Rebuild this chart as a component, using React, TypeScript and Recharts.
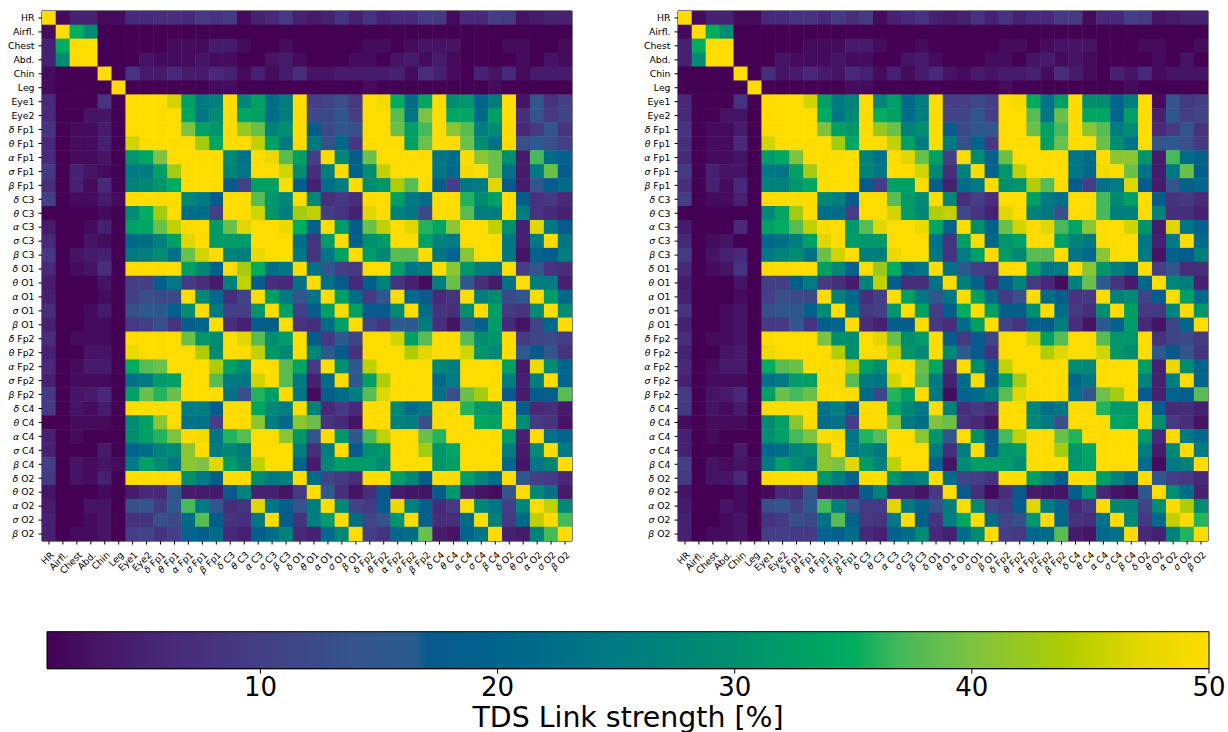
import React from 'react';
import { ScatterChart, Scatter, XAxis, YAxis, ReferenceLine, ReferenceArea } from 'recharts';

const labels = ['HR','Airfl.','Chest','Abd.','Chin','Leg','Eye1','Eye2','δ Fp1','θ Fp1','α Fp1','σ Fp1','β Fp1','δ C3','θ C3','α C3','σ C3','β C3','δ O1','θ O1','α O1','σ O1','β O1','δ Fp2','θ Fp2','α Fp2','σ Fp2','β Fp2','δ C4','θ C4','α C4','σ C4','β C4','δ O2','θ O2','α O2','σ O2','β O2'];
const tickPositions = labels.map((_, i) => i);
const colorbarTicks = [10, 20, 30, 40, 50];

// value -> colour stops
const colorStops: [number, number, number, number][] = [
  [1, 68, 1, 84], [3, 70, 20, 100], [6, 72, 40, 120], [10, 67, 62, 133], [14, 52, 84, 140], [16.5, 42, 92, 142],
  [17, 8, 90, 140], [20, 0, 100, 140], [25, 0, 122, 130], [30, 0, 143, 110], [35, 0, 172, 95], [37, 70, 185, 90],
  [40, 125, 195, 65], [44, 175, 205, 0], [47, 225, 215, 0], [50, 255, 220, 0],
];

const leftRows = [
  [50,2,5,5,2,2,6,6,7,7,6,9,8,9,2,5,6,9,5,4,5,8,5,8,5,6,6,9,9,2,6,6,10,9,3,4,5,5],
  [2,50,35,29,1,1,1,1,1,1,1,1,1,1,1,1,1,1,1,1,1,1,1,1,1,1,1,1,1,1,1,1,1,1,1,1,1,1],
  [5,35,50,50,1,1,1,1,1,2,2,2,4,4,2,1,1,2,1,1,1,1,1,2,2,1,2,3,3,3,1,1,1,2,2,1,1,2],
  [5,29,50,50,1,1,1,3,2,2,2,3,2,2,1,1,3,4,2,1,1,1,2,2,1,3,4,2,4,2,1,1,1,1,2,1,3,2],
  [2,1,1,1,50,1,8,4,4,6,4,4,6,5,2,5,2,4,7,3,3,4,4,4,4,5,2,7,5,2,1,5,3,6,2,4,4,4],
  [2,1,1,1,1,50,1,1,1,1,1,1,2,2,1,1,1,1,1,1,1,1,1,2,1,1,1,1,1,1,1,1,2,1,1,1,1,1],
  [6,1,1,1,8,1,50,50,50,46,33,25,27,50,28,33,22,26,50,10,11,13,9,50,49,35,22,34,50,30,31,20,26,50,3,14,8,10],
  [6,1,1,3,3,1,50,50,50,50,34,24,29,50,34,33,22,26,50,12,12,15,10,50,50,38,24,40,50,34,34,21,33,50,7,14,9,11],
  [8,1,2,2,4,1,50,50,50,50,40,33,31,50,42,39,27,30,50,18,12,15,13,50,50,39,33,37,50,41,38,26,29,50,6,9,14,8],
  [6,1,2,2,5,1,46,50,50,50,50,43,34,50,50,45,33,25,50,25,13,21,9,50,50,50,33,39,50,50,39,29,23,50,13,16,13,10],
  [6,1,2,2,3,1,31,34,40,50,50,50,50,28,23,50,48,38,33,10,50,28,18,39,50,50,50,50,24,22,50,41,39,30,4,37,22,19],
  [9,1,5,3,2,1,25,25,33,43,50,50,50,27,24,50,50,46,29,7,26,50,19,30,45,50,50,50,24,21,49,50,39,23,4,25,39,18],
  [7,1,5,2,6,1,27,28,31,35,50,50,50,17,11,33,33,50,18,5,22,26,50,29,31,44,38,50,18,10,24,25,47,17,4,14,18,22],
  [10,1,2,2,4,2,50,50,50,50,28,25,17,50,50,38,31,28,50,28,7,9,7,50,50,33,25,22,50,50,36,29,33,50,18,8,9,6],
  [1,1,1,1,2,1,29,35,43,50,22,22,10,50,50,46,31,26,43,45,10,8,5,47,50,27,24,12,50,50,38,26,26,50,26,8,6,5],
  [4,1,1,2,5,1,33,34,39,45,50,50,32,39,47,50,50,48,35,19,50,32,18,39,45,50,47,36,34,41,50,50,45,30,5,47,25,17],
  [6,1,1,3,2,1,21,22,27,33,47,50,32,32,32,50,50,50,22,8,32,50,19,30,32,50,50,33,27,25,50,50,50,24,5,25,50,24],
  [9,1,3,4,5,1,25,26,29,23,39,46,50,27,26,48,50,50,24,8,24,33,50,32,28,38,38,50,24,20,41,50,50,24,3,19,18,26],
  [6,1,2,3,7,1,50,50,50,50,33,28,19,50,43,35,22,24,50,23,15,10,9,50,50,33,24,25,50,41,31,26,24,50,10,14,8,7],
  [4,1,1,1,3,1,10,10,18,25,9,7,4,27,45,18,7,6,23,50,23,17,6,18,27,8,5,2,26,39,15,7,4,23,50,26,25,5],
  [5,1,1,1,2,1,10,13,12,12,50,28,21,7,11,50,33,25,14,24,50,33,22,9,15,50,21,18,6,8,50,26,29,12,15,50,32,21],
  [7,1,1,2,4,1,13,16,16,19,29,50,25,10,10,31,50,33,10,18,33,50,33,17,17,29,50,22,8,7,30,50,33,9,8,29,50,29],
  [5,1,1,2,2,1,9,10,13,8,18,20,50,7,5,18,18,50,8,7,22,33,50,11,8,16,16,26,7,3,15,19,32,6,3,11,21,50],
  [7,1,2,2,2,1,50,50,50,50,39,31,29,50,47,38,30,32,50,18,9,16,11,50,50,46,33,38,50,50,38,30,31,50,9,11,12,10],
  [5,1,1,3,3,1,48,50,50,50,50,44,29,50,50,45,31,28,50,28,16,17,8,50,50,50,44,47,50,50,46,31,28,50,16,17,14,8],
  [6,1,2,4,4,1,35,38,39,50,50,50,44,33,28,50,50,38,34,9,50,30,16,45,50,50,50,50,28,26,50,50,50,33,4,48,29,20],
  [5,1,2,2,2,1,23,25,32,33,50,50,38,25,24,46,50,38,25,5,22,50,16,33,44,50,50,50,21,25,50,50,50,26,5,26,50,20],
  [9,1,3,4,6,1,33,39,36,39,50,50,50,23,13,36,33,50,24,2,18,22,26,38,47,50,50,50,23,13,39,43,50,17,4,18,18,38],
  [9,1,3,2,4,1,50,50,50,50,25,26,18,50,50,34,28,26,50,27,6,9,6,50,50,28,22,24,50,50,36,32,31,50,17,6,7,4],
  [1,1,2,2,2,1,29,33,41,50,23,23,10,50,50,41,26,21,41,39,8,6,3,50,50,27,26,13,50,50,50,34,33,50,29,9,8,3],
  [5,1,2,1,1,1,30,33,36,40,50,49,24,36,38,50,50,41,31,14,50,31,16,37,45,50,50,39,36,50,50,50,50,32,5,50,23,20],
  [5,1,1,1,4,1,20,22,27,29,41,50,26,28,25,50,50,50,26,7,26,50,17,30,31,50,50,43,31,34,50,50,50,26,4,29,50,25],
  [10,1,3,2,3,2,25,33,29,24,41,40,47,32,27,45,50,50,20,4,28,33,32,32,29,50,50,50,31,33,50,50,50,21,3,24,27,50],
  [9,1,3,2,5,1,50,50,50,50,30,25,18,50,50,30,25,26,50,22,11,9,7,50,50,33,28,18,50,50,33,27,22,50,15,10,9,6],
  [3,1,1,1,2,1,4,6,6,15,4,4,4,17,27,5,5,3,9,50,16,7,3,7,17,4,3,3,18,31,5,3,2,14,50,28,23,4],
  [4,1,1,3,3,1,13,14,9,16,37,25,15,7,8,47,24,19,14,26,50,28,11,9,17,48,27,19,6,9,50,28,24,10,28,50,45,28],
  [5,1,1,2,3,1,8,8,13,12,22,38,18,8,7,24,50,18,8,26,32,50,22,11,14,31,50,19,7,7,22,50,27,9,21,45,50,37],
  [5,1,2,2,3,1,10,11,8,10,19,18,22,6,5,18,22,27,6,5,21,28,50,10,8,21,22,39,4,3,20,24,50,5,4,27,37,50],
];

const rightRows = [
  [50,2,5,5,2,2,6,6,8,8,6,9,7,9,2,5,6,8,5,4,5,8,5,8,5,6,6,9,9,2,6,6,10,9,3,4,5,5],
  [2,50,35,29,1,1,1,1,1,1,1,1,1,1,1,1,1,1,1,1,1,1,1,1,1,1,1,1,1,1,1,1,1,1,1,1,1,1],
  [5,35,50,50,1,1,1,1,1,2,2,2,4,4,2,1,1,2,1,1,1,1,1,2,2,1,2,3,3,3,1,1,1,2,2,1,1,2],
  [5,29,50,50,1,1,1,3,2,2,2,3,2,2,1,1,3,4,2,1,1,1,2,2,1,3,4,2,3,2,1,1,1,1,2,1,3,1],
  [1,1,1,1,50,1,7,3,4,6,4,3,6,5,2,5,2,4,6,3,2,4,3,4,4,5,2,7,4,2,1,5,3,6,2,3,3,3],
  [1,1,1,1,1,50,1,1,1,1,1,1,2,2,1,1,1,1,1,1,1,1,1,2,1,1,1,1,1,1,1,1,2,1,1,1,1,1],
  [6,1,1,1,8,1,50,50,50,46,33,25,27,50,28,33,21,26,50,10,10,12,10,50,49,35,23,33,50,30,30,20,26,50,2,14,9,10],
  [6,1,1,3,3,1,50,50,50,50,35,24,28,50,35,33,22,26,50,11,11,15,10,50,50,38,24,39,50,34,34,20,33,50,5,15,10,11],
  [8,1,2,2,4,1,50,50,50,50,40,33,31,50,42,39,27,30,50,17,12,15,14,50,50,39,33,37,50,41,38,26,29,50,6,9,14,8],
  [7,1,2,2,6,1,46,50,50,50,50,43,34,50,50,45,33,25,50,25,13,20,9,50,50,50,33,39,50,50,39,29,23,50,14,16,13,9],
  [6,1,2,2,3,1,32,34,40,50,50,50,50,27,23,50,47,39,33,10,50,29,19,39,50,50,50,50,24,22,50,41,41,31,4,37,22,19],
  [9,1,5,3,3,1,25,24,33,43,50,50,50,27,24,50,50,46,28,7,27,50,20,31,45,50,50,50,24,21,49,50,39,23,4,25,39,18],
  [7,1,5,2,6,1,27,27,31,34,50,50,50,17,10,33,33,50,18,5,22,25,50,30,31,44,38,50,18,10,23,25,47,18,4,14,19,21],
  [10,1,2,2,5,1,50,50,50,50,28,26,17,50,50,38,32,29,50,28,7,10,7,50,50,33,25,22,50,50,37,29,33,50,18,8,9,6],
  [1,1,1,1,1,1,28,34,43,50,22,22,10,50,50,46,32,28,44,45,12,8,5,47,50,27,24,13,50,50,37,26,26,50,27,7,7,5],
  [4,1,1,1,6,1,33,35,38,45,50,50,32,38,47,50,50,48,34,19,50,30,19,39,46,50,47,37,34,41,50,50,46,31,4,47,24,19],
  [6,1,2,3,1,1,21,22,26,33,47,50,32,31,32,50,50,50,23,8,33,50,21,31,33,50,50,33,27,25,50,50,50,24,5,25,50,22],
  [9,1,3,5,6,1,25,27,29,23,39,46,50,26,26,48,50,50,24,8,25,33,50,32,28,38,38,50,24,21,41,50,50,25,3,19,18,26],
  [6,1,2,3,8,1,50,50,50,50,33,28,19,50,42,35,21,24,50,23,16,10,9,50,50,33,24,25,50,41,31,26,22,50,10,14,7,7],
  [4,1,1,1,3,1,10,10,18,25,9,7,4,27,45,18,7,7,23,50,26,19,6,19,27,9,6,2,27,39,16,8,4,21,50,28,26,5],
  [5,1,1,1,2,1,10,13,12,12,50,27,21,7,10,50,33,25,15,24,50,33,22,9,13,50,22,18,8,9,50,27,29,11,18,50,33,21],
  [8,1,1,2,3,1,13,15,15,19,29,50,24,9,10,31,50,33,10,18,35,50,33,18,18,30,50,22,9,7,30,50,33,9,9,27,50,31],
  [5,1,1,2,3,1,9,9,14,8,18,20,50,7,5,18,18,50,9,7,22,33,50,11,8,18,18,26,7,3,16,19,32,6,3,11,21,50],
  [7,1,2,2,3,1,50,50,50,50,40,30,29,50,47,39,30,32,50,18,9,17,11,50,50,46,33,38,50,50,38,31,31,50,8,11,12,9],
  [5,1,1,3,4,1,48,50,50,50,50,44,30,50,50,45,31,28,50,28,16,17,8,50,50,50,44,47,50,50,46,31,29,50,16,17,14,8],
  [6,1,2,4,4,1,35,38,39,50,50,50,45,33,29,50,50,39,34,8,50,30,18,45,50,50,50,50,29,28,50,50,50,33,5,48,29,20],
  [5,1,2,2,2,1,23,25,32,33,50,50,38,25,24,46,50,38,25,5,22,50,18,33,43,50,50,50,21,24,50,50,50,27,5,26,50,20],
  [9,1,3,4,6,1,33,39,37,39,50,50,50,22,12,36,33,50,25,2,20,22,26,38,47,50,50,50,23,14,39,43,50,17,5,20,18,38],
  [9,1,3,2,4,1,50,50,50,50,24,26,18,50,50,34,28,25,50,27,7,9,7,50,50,28,22,24,50,50,36,32,32,50,17,6,7,5],
  [2,1,2,2,2,1,29,33,41,50,22,23,10,50,50,41,25,22,40,39,8,6,3,50,50,28,25,13,50,50,50,34,33,50,30,9,7,3],
  [5,1,2,1,1,1,30,33,37,40,50,49,24,36,38,50,50,41,31,14,50,30,17,37,45,50,50,39,36,50,50,50,50,32,6,50,25,21],
  [5,1,1,1,4,1,21,22,27,29,41,50,25,28,25,50,50,50,26,7,26,50,19,31,32,50,50,43,31,34,50,50,50,26,4,28,50,25],
  [10,1,3,2,3,2,25,33,29,25,41,40,47,32,27,45,50,50,20,3,29,33,32,32,29,50,50,50,31,33,50,50,50,22,2,25,27,50],
  [9,1,3,3,6,1,50,50,50,50,31,26,19,50,50,31,25,27,50,22,11,10,8,50,50,33,27,18,50,50,33,27,21,50,15,10,9,6],
  [3,1,1,1,2,1,2,6,6,14,4,4,4,18,27,5,5,3,9,50,17,7,2,7,17,4,3,3,18,31,6,3,2,15,50,29,22,5],
  [4,1,1,3,2,1,13,14,10,16,37,26,14,9,9,47,25,19,13,26,50,29,11,9,18,47,26,20,6,9,50,28,27,11,29,50,44,29],
  [5,1,1,2,3,1,8,9,13,12,23,38,19,9,8,25,50,18,8,26,34,50,22,11,13,31,50,21,8,7,23,50,28,9,21,45,50,36],
  [5,1,2,2,3,1,10,10,9,9,20,19,22,6,5,19,22,29,6,5,22,29,50,10,9,21,22,38,4,3,21,23,50,6,5,27,36,50],
];

const FONT = '"DejaVu Sans", sans-serif';
const PLOT = 530;
const CELL = PLOT / 38;

function colorOf(v: number) {
  for (let i = 1; i < colorStops.length; i++) {
    const [v1, r1, g1, b1] = colorStops[i];
    if (v <= v1) {
      const [v0, r0, g0, b0] = colorStops[i - 1];
      const t = (v - v0) / (v1 - v0);
      return `rgb(${Math.round(r0 + (r1 - r0) * t)},${Math.round(g0 + (g1 - g0) * t)},${Math.round(b0 + (b1 - b0) * t)})`;
    }
  }
  return 'rgb(255,220,0)';
}

function labelParts(label: string) {
  const parts = label.split(' ');
  if (parts.length === 1) return label;
  return (
    <>
      <tspan fontStyle="italic">{parts[0]}</tspan>
      <tspan> {parts[1]}</tspan>
    </>
  );
}

function XTick({ x, y, payload }: any) {
  const lx = x + 0.5;
  const ly = y + 4;
  return (
    <text x={lx} y={ly} textAnchor="end" dominantBaseline="hanging" transform={`rotate(-45 ${lx} ${ly})`} fontSize={9.3} fontFamily={FONT} fill="#000">
      {labelParts(labels[payload.value])}
    </text>
  );
}

function YTick({ x, y, payload }: any) {
  return (
    <text x={x - 2} y={y + 3.3} textAnchor="end" fontSize={9.3} fontFamily={FONT} fill="#000">
      {labelParts(labels[payload.value])}
    </text>
  );
}

function CellShape({ cx, cy, payload }: any) {
  return <rect x={cx - CELL / 2 - 0.25} y={cy - CELL / 2 - 0.25} width={CELL + 0.5} height={CELL + 0.5} fill={colorOf(payload.v)} />;
}

function Matrix({ rows, left }: { rows: number[][]; left: number }) {
  const cells = rows.flatMap((row, y) => row.map((v, x) => ({ x, y, v })));
  return (
    <div style={{ position: 'absolute', left, top: 0 }}>
      <ScatterChart width={600} height={620} margin={{ top: 11, right: 28, bottom: 29, left: 0 }}>
        <XAxis
          type="number"
          dataKey="x"
          domain={[-0.5, 37.5]}
          ticks={tickPositions}
          interval={0}
          tick={<XTick />}
          tickSize={3.5}
          height={50}
          stroke="#000"
          allowDataOverflow
        />
        <YAxis
          type="number"
          dataKey="y"
          reversed
          domain={[-0.5, 37.5]}
          ticks={tickPositions}
          interval={0}
          tick={<YTick />}
          tickSize={3.5}
          width={42}
          stroke="#000"
          allowDataOverflow
        />
        <Scatter data={cells} shape={<CellShape />} isAnimationActive={false} />
        <ReferenceLine x={37.5} stroke="#000" />
        <ReferenceLine y={-0.5} stroke="#000" />
      </ScatterChart>
    </div>
  );
}

// the gradient bar is a reference area; the scatter only feeds the axis its domain
function Colorbar() {
  const anchors = colorbarTicks.map(x => ({ x, y: 0 }));
  return (
    <div style={{ position: 'absolute', left: 0, top: 620 }}>
      <ScatterChart width={1228} height={112} margin={{ top: 11.7, right: 19, bottom: 0, left: 47 }}>
        <defs>
          <linearGradient id="cbar" x1="0" x2="1" y1="0" y2="0">
            {colorStops.map(([v]) => (
              <stop key={v} offset={(v - 1) / 49} stopColor={colorOf(v)} />
            ))}
          </linearGradient>
        </defs>
        <XAxis
          type="number"
          dataKey="x"
          domain={[1, 50]}
          ticks={colorbarTicks}
          interval={0}
          tickSize={5}
          tickMargin={4}
          height={63.3}
          stroke="#000"
          allowDataOverflow
          tick={{ fontSize: 26, fontFamily: FONT, fill: '#000' }}
          label={{ value: 'TDS Link strength [%]', position: 'insideBottom', offset: 5, fontSize: 28.4, fontFamily: FONT, fill: '#000' }}
        />
        <YAxis type="number" dataKey="y" domain={[0, 1]} hide allowDataOverflow />
        <ReferenceArea x1={1} x2={50} y1={0} y2={1} fill="url(#cbar)" fillOpacity={1} stroke="#000" strokeOpacity={1} />
        <Scatter data={anchors} shape={() => <g />} isAnimationActive={false} />
      </ScatterChart>
    </div>
  );
}

export default function App() {
  return (
    <div style={{ position: 'absolute', left: 0, top: 0, width: 1228, height: 732, overflow: 'hidden', background: '#fff' }}>
      <Matrix rows={leftRows} left={0.3} />
      <Matrix rows={rightRows} left={636.3} />
      <Colorbar />
    </div>
  );
}
